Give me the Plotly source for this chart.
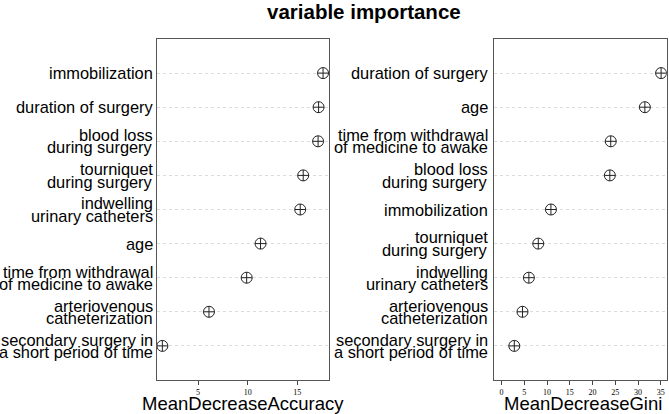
import plotly.graph_objects as go

# Left panel: MeanDecreaseAccuracy (top to bottom)
acc_labels = [
    "immobilization",
    "duration of surgery",
    "blood loss\nduring surgery",
    "tourniquet\nduring surgery",
    "indwelling\nurinary catheters",
    "age",
    "time from withdrawal\nof medicine to awake",
    "arteriovenous\ncatheterization",
    "secondary surgery in\na short period of time",
]
acc_values = [17.6, 17.15, 17.1, 15.6, 15.3, 11.3, 9.9, 6.1, 1.4]

# Right panel: MeanDecreaseGini (top to bottom)
gini_labels = [
    "duration of surgery",
    "age",
    "time from withdrawal\nof medicine to awake",
    "blood loss\nduring surgery",
    "immobilization",
    "tourniquet\nduring surgery",
    "indwelling\nurinary catheters",
    "arteriovenous\ncatheterization",
    "secondary surgery in\na short period of time",
]
gini_values = [35.07, 31.5, 24.0, 23.8, 10.85, 8.07, 6.0, 4.6, 2.8]

acc_ticks = [5, 10, 15]
gini_ticks = [0, 5, 10, 15, 20, 25, 30, 35]

W, H = 669, 414
SANS = "Liberation Sans, Arial, sans-serif"
SERIF = "Liberation Serif, Times New Roman, serif"

n = len(acc_labels)
pos = list(range(n, 0, -1))  # top item at n

fig = go.Figure()
marker = dict(symbol="circle-cross-open", size=11, color="#222222", line=dict(width=1, color="#222222"))
fig.add_trace(go.Scatter(x=acc_values, y=pos, mode="markers", marker=marker, xaxis="x", yaxis="y",
                         showlegend=False, hoverinfo="x"))
fig.add_trace(go.Scatter(x=gini_values, y=pos, mode="markers", marker=marker, xaxis="x2", yaxis="y2",
                         showlegend=False, hoverinfo="x"))

ydom = [1 - 380 / H, 1 - 39 / H]
xdom1 = [157 / W, 329 / W]
xdom2 = [494.3 / W, 666.7 / W]

frame = dict(showline=True, linecolor="#555555", linewidth=1, mirror=True, zeroline=False)
xcommon = dict(ticks="outside", ticklen=4, tickcolor="#444444", tickwidth=1, showgrid=False,
               tickfont=dict(family=SERIF, size=8, color="#000000"), **frame)
ycommon = dict(range=[0, 10], showticklabels=False, ticks="", showgrid=True, gridcolor="#dcdcdc",
               griddash="dot", gridwidth=1, tickvals=pos, domain=ydom, **frame)

fig.update_layout(
    width=W, height=H,
    margin=dict(l=0, r=0, t=0, b=0),
    paper_bgcolor="white", plot_bgcolor="white",
    xaxis=dict(domain=xdom1, range=[0.86, 18.2], tickvals=acc_ticks, anchor="y", **xcommon),
    yaxis=dict(anchor="x", **ycommon),
    xaxis2=dict(domain=xdom2, range=[-1.6, 36.3], tickvals=gini_ticks, anchor="y2", **xcommon),
    yaxis2=dict(anchor="x2", **ycommon),
)

anns = []
def add_labels(labels, xref, yref, xshift):
    for lab, p in zip(labels, pos):
        lines = lab.split("\n")
        k = len(lines)
        for j, line in enumerate(lines):
            shift = ((k - 1) / 2 - j) * 12.4
            anns.append(dict(text=line, xref=xref, yref=yref, x=0, y=p, xanchor="right",
                             yanchor="middle", xshift=xshift, yshift=shift, showarrow=False,
                             font=dict(family=SANS, size=16.4, color="#000000")))

add_labels(acc_labels, "x domain", "y", -2)
add_labels(gini_labels, "x2 domain", "y2", -4)

anns.append(dict(text="<b>variable importance</b>", xref="paper", yref="paper", x=363.7 / W,
                 y=1 - 11 / H, xanchor="center", yanchor="middle", showarrow=False,
                 font=dict(family=SANS, size=20.5, color="#000000")))
anns.append(dict(text="MeanDecreaseAccuracy", xref="paper", yref="paper", x=242.5 / W,
                 y=1 - 403 / H, xanchor="center", yanchor="middle", showarrow=False,
                 font=dict(family=SANS, size=18.5, color="#000000")))
anns.append(dict(text="MeanDecreaseGini", xref="paper", yref="paper", x=582.5 / W,
                 y=1 - 403 / H, xanchor="center", yanchor="middle", showarrow=False,
                 font=dict(family=SANS, size=18.5, color="#000000")))
fig.update_layout(annotations=anns)

fig.write_html("out.html", config={"displayModeBar": False},
               post_script="document.body.style.margin='0';document.body.style.padding='0';")
